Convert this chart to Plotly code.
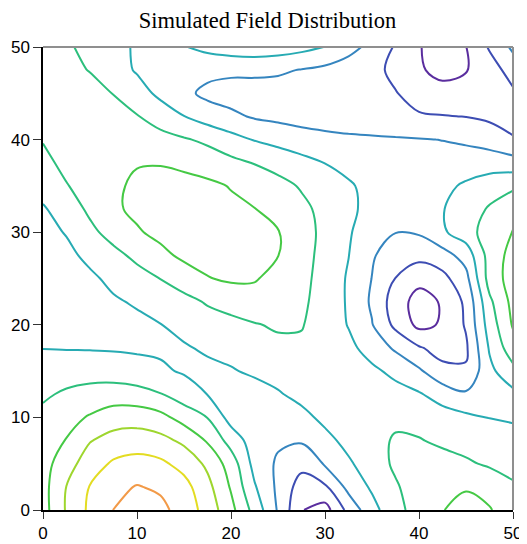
import plotly.graph_objects as go

# grid coordinates (field sampled every 2.5 units)
x_vals = [0, 2.5, 5, 7.5, 10, 12.5, 15, 17.5, 20, 22.5, 25, 27.5, 30, 32.5, 35, 37.5, 40, 42.5, 45, 47.5, 50]
y_vals = [0, 2.5, 5, 7.5, 10, 12.5, 15, 17.5, 20, 22.5, 25, 27.5, 30, 32.5, 35, 37.5, 40, 42.5, 45, 47.5, 50]

# field values, one list per row (y)
row_y00_0 = [5.6, 7.1, 8.2, 9.02, 9.35, 9.25, 8.6, 7.6, 6.3, 4.65, 2.9, 1.05, 0.6, 2.3, 3.65, 4.7, 5.4, 5.98, 6.2, 6.05, 5.6]
row_y02_5 = [5.65, 7.02, 8.05, 8.75, 9.05, 8.85, 8.35, 7.3, 5.9, 4.1, 2.8, 1.55, 1.85, 3.3, 4.15, 4.9, 5.45, 5.85, 5.95, 5.75, 5.1]
row_y05_0 = [5.6, 6.6, 7.5, 8.15, 8.4, 8.2, 7.65, 6.8, 5.55, 3.67, 2.85, 2.3, 3.1, 3.85, 4.55, 5.15, 5.35, 5.3, 5.15, 4.85, 4.75]
row_y07_5 = [5.45, 6.05, 6.95, 7.35, 7.45, 7.3, 6.8, 5.9, 4.6, 3.5, 3.15, 3.1, 3.7, 4.3, 4.75, 5.08, 5.05, 4.85, 4.6, 4.35, 4.3]
row_y10_0 = [5.25, 5.65, 6.1, 6.55, 6.6, 6.3, 5.6, 4.98, 3.6, 3.45, 3.35, 3.7, 4.25, 4.5, 4.7, 4.85, 4.7, 4.45, 4.2, 3.98, 3.9]
row_y12_5 = [4.85, 5.15, 5.35, 5.45, 5.35, 5.05, 4.5, 3.98, 3.7, 3.5, 3.9, 4.3, 4.55, 4.65, 4.55, 4.35, 4.1, 3.55, 3.15, 3.5, 3.75]
row_y15_0 = [4.45, 4.55, 4.6, 4.55, 4.4, 4.15, 3.9, 3.75, 3.9, 4.2, 4.4, 4.55, 4.6, 4.45, 4.2, 3.75, 3.15, 2.3, 2.1, 3.75, 4.7]
row_y17_5 = [3.98, 3.95, 3.93, 3.9, 3.85, 3.85, 3.9, 4.15, 4.4, 4.6, 4.8, 4.85, 4.6, 4.25, 3.6, 2.85, 2.1, 1.6, 1.85, 4.1, 5.6]
row_y20_0 = [3.8, 3.7, 3.65, 3.7, 3.8, 3.98, 4.3, 4.55, 4.75, 4.95, 5.1, 5.05, 4.6, 3.95, 3.05, 1.75, 0.75, 1.1, 2.1, 4.45, 6.1]
row_y22_5 = [3.6, 3.6, 3.75, 3.9, 4.1, 4.35, 4.7, 5.1, 5.35, 5.5, 5.5, 5.2, 4.55, 3.9, 2.85, 1.5, 0.6, 1.1, 2.2, 4.8, 6.3]
row_y25_0 = [3.55, 3.65, 3.85, 4.2, 4.6, 5.02, 5.5, 5.95, 6.15, 6.1, 5.6, 5.3, 4.6, 3.9, 2.98, 1.98, 1.3, 1.7, 2.7, 5.4, 6.45]
row_y27_5 = [3.6, 3.8, 4.2, 4.7, 5.25, 5.75, 6.2, 6.35, 6.35, 6.2, 6.02, 5.35, 4.7, 4.02, 3.1, 2.5, 2.3, 2.6, 3.4, 5.4, 6.35]
row_y30_0 = [3.75, 4.05, 4.75, 5.4, 5.9, 6.25, 6.4, 6.45, 6.35, 6.2, 6.05, 5.4, 4.75, 4.1, 3.45, 3.02, 3.1, 3.85, 4.55, 5.5, 6.05]
row_y32_5 = [3.9, 4.45, 5.2, 5.85, 6.2, 6.35, 6.4, 6.35, 6.2, 6.02, 5.65, 5.25, 4.7, 4.2, 3.7, 3.4, 3.45, 3.95, 4.5, 5.1, 5.6]
row_y35_0 = [4.35, 4.95, 5.4, 5.85, 6.15, 6.3, 6.3, 6.2, 5.95, 5.7, 5.35, 4.9, 4.55, 4.1, 3.75, 3.55, 3.5, 3.75, 4.15, 4.55, 4.85]
row_y37_5 = [4.75, 5.25, 5.55, 5.8, 5.95, 5.95, 5.8, 5.55, 5.25, 4.95, 4.6, 4.3, 3.98, 3.75, 3.55, 3.45, 3.4, 3.4, 3.45, 3.5, 3.4]
row_y40_0 = [5.05, 5.3, 5.45, 5.5, 5.45, 5.3, 5.1, 4.8, 4.35, 3.95, 3.7, 3.45, 3.3, 3.2, 3.15, 3.1, 3.05, 2.98, 2.85, 2.6, 2.1]
row_y42_5 = [5.5, 5.45, 5.4, 5.3, 5.05, 4.6, 4.02, 3.55, 3.2, 2.9, 2.75, 2.6, 2.5, 2.4, 2.3, 2.2, 2.1, 2.05, 1.98, 1.8, 1.55]
row_y45_0 = [5.85, 5.7, 5.45, 4.97, 4.45, 3.75, 3.25, 2.75, 2.6, 2.6, 2.55, 2.5, 2.45, 2.3, 2.2, 2.05, 1.6, 1.3, 1.35, 1.6, 1.85]
row_y47_5 = [5.75, 5.35, 4.95, 4.45, 3.9, 3.6, 3.45, 3.3, 3.2, 3.2, 3.15, 2.95, 2.75, 2.55, 2.3, 1.75, 1.1, 0.75, 0.95, 1.55, 2.4]
row_y50_0 = [5.55, 5.15, 4.7, 4.25, 3.9, 3.85, 3.95, 4.25, 4.5, 4.6, 4.5, 4.3, 3.98, 3.3, 2.75, 1.9, 1.05, 0.6, 0.98, 2.1, 3.2]

field_rows = [row_y00_0, row_y02_5, row_y05_0, row_y07_5, row_y10_0, row_y12_5, row_y15_0,
              row_y17_5, row_y20_0, row_y22_5, row_y25_0, row_y27_5, row_y30_0, row_y32_5,
              row_y35_0, row_y37_5, row_y40_0, row_y42_5, row_y45_0, row_y47_5, row_y50_0]

tick_vals = [0, 10, 20, 30, 40, 50]
tick_text = ["0", "10", "20", "30", "40", "50"]

level_colors = [
    [0.000, "#5a2d9e"],
    [0.125, "#3d4db3"],
    [0.250, "#3585bf"],
    [0.375, "#27abb3"],
    [0.500, "#2cbf7c"],
    [0.625, "#45c944"],
    [0.750, "#9ed62e"],
    [0.875, "#e3dc22"],
    [1.000, "#f29a48"],
]

fig = go.Figure(
    go.Contour(
        x=x_vals,
        y=y_vals,
        z=field_rows,
        zmin=1,
        zmax=9,
        autocontour=False,
        contours=dict(start=1, end=9, size=1, coloring="lines", showlabels=False),
        colorscale=level_colors,
        line=dict(width=2, smoothing=1.0),
        showscale=False,
        hoverinfo="skip",
    )
)

axis_font = dict(family="Liberation Sans, Arial, sans-serif", size=17, color="#000000")

# the page body adds an 8 px offset, so the figure is 8 px smaller and margins are shifted
fig.update_layout(
    width=519,
    height=536,
    paper_bgcolor="#ffffff",
    plot_bgcolor="#ffffff",
    margin=dict(l=35, r=14, t=39, b=34, autoexpand=False),
    title=dict(
        text="Simulated Field Distribution",
        x=0.5,
        xanchor="center",
        xref="container",
        y=1.0,
        yanchor="top",
        yref="container",
        pad=dict(t=4, b=0, l=0, r=0),
        font=dict(family="Liberation Serif, Times New Roman, serif", size=22.5, color="#000000"),
    ),
    xaxis=dict(
        range=[0, 50],
        tickvals=tick_vals,
        ticktext=tick_text,
        ticks="outside",
        ticklen=7,
        tickcolor="#333333",
        showline=True,
        linecolor="#000000",
        linewidth=1.5,
        showgrid=False,
        zeroline=False,
        tickfont=axis_font,
        automargin=False,
    ),
    yaxis=dict(
        range=[0, 50],
        tickvals=tick_vals,
        ticktext=tick_text,
        ticks="outside",
        ticklen=8,
        tickcolor="#333333",
        showline=True,
        linecolor="#000000",
        linewidth=1.5,
        showgrid=False,
        zeroline=False,
        tickfont=axis_font,
        automargin=False,
    ),
    shapes=[
        dict(type="line", xref="paper", yref="paper", x0=0, x1=1, y0=1, y1=1,
             line=dict(color="#8f8f8f", width=2)),
        dict(type="line", xref="paper", yref="paper", x0=1, x1=1, y0=0, y1=1,
             line=dict(color="#8f8f8f", width=2)),
    ],
)

fig.write_html("out.html")
